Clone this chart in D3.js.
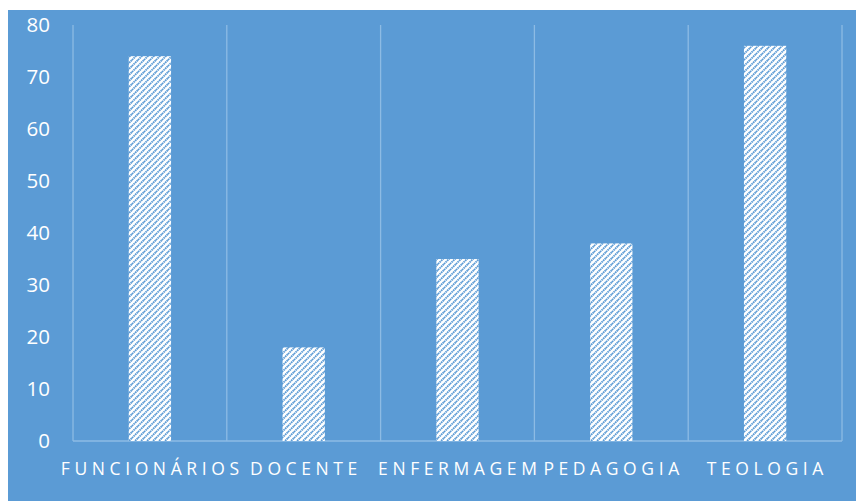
<!DOCTYPE html>
<html lang="pt">
<head>
    <meta charset="UTF-8">
    <title>Chart</title>
    <script src="https://cdn.jsdelivr.net/npm/d3@7"></script>
    <style>
        body { margin: 0; background: #fff; }
        text { font-family: "Open Sans", "Liberation Sans", sans-serif; fill: #fff; }
    </style>
</head>
<body>
    <script>
        const categories = ["FUNCIONÁRIOS", "DOCENTE", "ENFERMAGEM", "PEDAGOGIA", "TEOLOGIA"];
        const values = [74, 18, 35, 38, 76];
        const yTicks = [0, 10, 20, 30, 40, 50, 60, 70, 80];

        const width = 856, height = 501;
        const bg = "#5b9bd5";

        const svg = d3.select("body").append("svg")
            .attr("width", width)
            .attr("height", height);

        // hatch pattern (wide upward diagonal)
        const pat = svg.append("defs").append("pattern")
            .attr("id", "hatch")
            .attr("patternUnits", "userSpaceOnUse")
            .attr("width", 6)
            .attr("height", 6);
        pat.append("rect").attr("width", 6).attr("height", 6).attr("fill", "#fff");
        pat.append("path")
            .attr("d", "M0,6 L6,0 M-1,1 L1,-1 M5,7 L7,5")
            .attr("stroke", bg)
            .attr("stroke-width", 1.9)
            .attr("stroke-dasharray", "1.6,0.6");

        svg.append("rect")
            .attr("x", 8).attr("y", 10)
            .attr("width", width - 8).attr("height", height - 10)
            .attr("fill", bg);

        const x = d3.scaleBand()
            .domain(categories)
            .range([73, 842])
            .paddingInner(0)
            .paddingOuter(0);

        const y = d3.scaleLinear()
            .domain([0, 80])
            .range([441, 25]);

        // vertical grid lines at category boundaries
        const bounds = categories.map(c => x(c)).concat([x.range()[1]]);
        svg.append("g").selectAll("line")
            .data(bounds)
            .enter().append("line")
            .attr("x1", d => d).attr("x2", d => d)
            .attr("y1", y(80)).attr("y2", y(0))
            .attr("stroke", "#8dbbe4")
            .attr("stroke-width", 1.3);

        // baseline
        svg.append("line")
            .attr("x1", x.range()[0]).attr("x2", x.range()[1])
            .attr("y1", y(0)).attr("y2", y(0))
            .attr("stroke", "#8dbbe4")
            .attr("stroke-width", 1.3);

        const barW = x.bandwidth() * 0.275;
        svg.append("g").selectAll("rect")
            .data(values)
            .enter().append("rect")
            .attr("x", (d, i) => x(categories[i]) + x.bandwidth() / 2 - barW / 2)
            .attr("y", d => y(d))
            .attr("width", barW)
            .attr("height", d => y(0) - y(d))
            .attr("fill", "url(#hatch)");

        // y axis labels
        svg.append("g").selectAll("text")
            .data(yTicks)
            .enter().append("text")
            .attr("x", 50)
            .attr("y", d => y(d))
            .attr("dy", "0.35em")
            .attr("text-anchor", "end")
            .attr("font-size", 20.5)
            .text(d => d);

        // category labels
        svg.append("g").selectAll("text")
            .data(categories)
            .enter().append("text")
            .attr("x", d => x(d) + x.bandwidth() / 2 + 2.3)
            .attr("y", 475)
            .attr("text-anchor", "middle")
            .attr("font-size", 17.5)
            .attr("letter-spacing", "4.6px")
            .text(d => d);
    </script>
</body>
</html>
